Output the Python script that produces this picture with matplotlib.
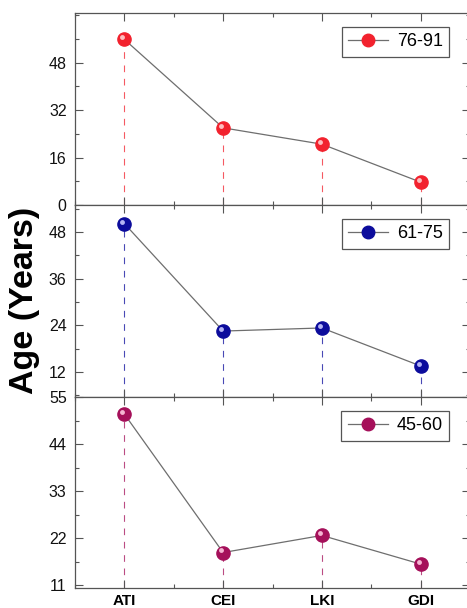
import matplotlib
matplotlib.use("Agg")
import matplotlib.pyplot as plt
import matplotlib.transforms as mtransforms
from matplotlib.ticker import MultipleLocator, FixedLocator
from matplotlib.lines import Line2D
import numpy as np

plt.rcParams['font.family'] = ['Liberation Sans', 'DejaVu Sans']

categories = ["ATI", "CEI", "LKI", "GDI"]
series_labels = ["76-91", "61-75", "45-60"]
values_76_91 = [55.8, 26.0, 20.5, 7.7]
values_61_75 = [50.2, 22.5, 23.3, 13.5]
values_45_60 = [51.0, 18.6, 22.6, 15.9]
all_values = [values_76_91, values_61_75, values_45_60]

colors = ["#f2222e", "#0c0c9c", "#a5105a"]
highlight = ["#ffd0d0", "#c8c8ff", "#ffc8e0"]
ylims = [(0, 64.7), (5.5, 55.0), (10.3, 55.0)]
yticks = [[0, 16, 32, 48], [12, 24, 36, 48], [11, 22, 33, 44, 55]]
yminor = [8, 6, 5.5]

W, H = 467, 608
fig = plt.figure(figsize=(W / 100, H / 100), dpi=100)

left = 75 / W
right = 470 / W
tops = [13, 205, 397]
bots = [205, 397, 588]

x = np.arange(1, len(categories) + 1)
spine_color = "#555555"

for i in range(3):
    ax = fig.add_axes([left, 1 - bots[i] / H, right - left, (bots[i] - tops[i]) / H])
    vals = all_values[i]
    c = colors[i]
    ax.set_xlim(0.5, 4.5)
    ax.set_ylim(*ylims[i])
    # drop lines
    ax.vlines(x, ylims[i][0], vals, colors=c, linestyles=(0, (6, 6)), linewidth=0.8,
              alpha=0.75, zorder=1)
    ax.plot(x, vals, color="#6e6e6e", linewidth=0.9, zorder=2)
    ax.plot(x, vals, linestyle="none", marker="o", markersize=9.5,
            markerfacecolor=c, markeredgecolor=c, zorder=3)
    off = mtransforms.ScaledTranslation(-1.5 / 72, 1.5 / 72, fig.dpi_scale_trans)
    ax.plot(x, vals, linestyle="none", marker="o", markersize=3.5,
            markerfacecolor=highlight[i], markeredgecolor="none", alpha=0.9,
            transform=ax.transData + off, zorder=4)

    ax.yaxis.set_major_locator(FixedLocator(yticks[i]))
    ax.yaxis.set_minor_locator(MultipleLocator(yminor[i]))
    ax.xaxis.set_major_locator(FixedLocator(x))
    ax.xaxis.set_minor_locator(MultipleLocator(0.5))
    ax.tick_params(which="both", direction="in", top=True, right=True,
                   color=spine_color, width=0.8)
    ax.tick_params(which="major", length=6)
    ax.tick_params(which="minor", length=3)
    ax.tick_params(axis="y", labelsize=11.5, pad=6, labelcolor="#111111")
    for s in ax.spines.values():
        s.set_color(spine_color)
        s.set_linewidth(0.9)
    if i < 2:
        ax.set_xticklabels([])
    else:
        ax.set_xticklabels(categories, fontsize=11, fontweight="bold")
        ax.tick_params(axis="x", pad=4.5)

    handle = Line2D([], [], color="#6e6e6e", linewidth=0.9, marker="o",
                    markersize=9, markerfacecolor=c, markeredgecolor=c)
    leg = ax.legend([handle], [series_labels[i]], loc="upper right",
                    fontsize=13, fancybox=False, framealpha=1,
                    edgecolor="#555555", handlelength=2.2, borderpad=0.35,
                    handletextpad=0.5, borderaxespad=0)
    leg.set_bbox_to_anchor(((449 - 75) / (470 - 75), 1 - 14 / (bots[i] - tops[i])),
                           transform=ax.transAxes)
    leg.get_frame().set_linewidth(0.9)

fig.text(25 / W, 1 - 300 / H, "Age (Years)", rotation=90, fontsize=24.5,
         fontweight="bold", ha="center", va="center")

fig.savefig("out.png", dpi=100)
